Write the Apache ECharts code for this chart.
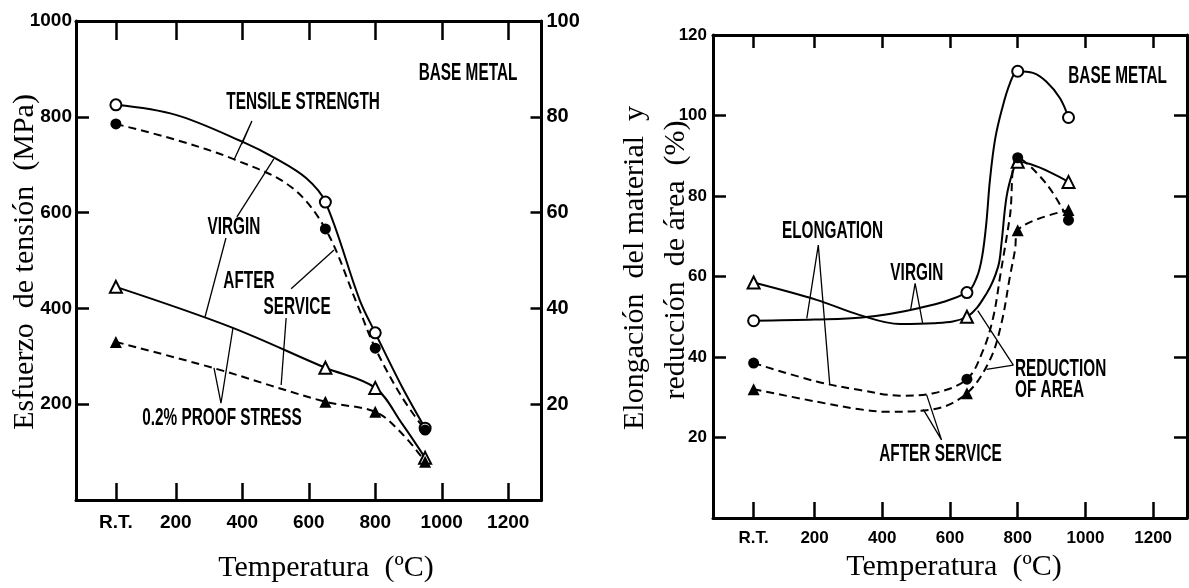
<!DOCTYPE html>
<html>
<head>
<meta charset="utf-8">
<script src="https://cdn.jsdelivr.net/npm/echarts@6/dist/echarts.min.js"></script>
<style>
  html, body { margin: 0; padding: 0; background: #fff; }
  #chart { width: 1189px; height: 588px; }
</style>
</head>
<body>
<div id="chart"></div>
<script>
// Test temperatures (°C); room temperature (R.T.) is plotted at 20 °C
const testTemps = [20, 650, 800, 950];
const tempTicks = [20, 200, 400, 600, 800, 1000, 1200];
const tempTickLabels = ['R.T.', '200', '400', '600', '800', '1000', '1200'];

// Left panel: strength (MPa), base metal
const tensileVirgin = [825, 622, 349, 150];
const tensileAfter  = [785, 566, 317, 146];
const proofVirgin   = [445, 276, 234, 88];
const proofAfter    = [330, 205, 184, 80];

// Extra points [°C, MPa]
const tensileVirginPath = [[200, 804], [400, 748], [500, 713], [592, 672], [753, 418], [880, 237]];
const tensileAfterPath  = [[200, 752], [376, 711], [546, 654], [745, 410], [880, 215]];
const proofVirginPath   = [[362, 362], [880, 160]];
const proofAfterPath    = [[316, 275], [880, 139]];

// Right panel: elongation and reduction of area (%), base metal
const areaVirgin  = [49, 56, 111, 99.5];
const elongVirgin = [58.5, 50, 88.5, 83.5];
const areaAfter   = [38.5, 34.5, 89.5, 74];
const elongAfter  = [32, 31, 71.5, 76.5];

// Extra points [°C, %]
const areaVirginPath  = [[200, 49.3], [340, 49.8], [500, 52], [680, 60], [695, 65], [707, 73], [718, 84],
                         [733, 94], [753, 101.4], [777, 108], [845, 110.6], [885, 108.4], [925, 104.3]];
const elongVirginPath = [[206, 54.2], [334, 50.4], [452, 48.2], [551, 48.4], [708, 55.8], [742, 62.4],
                         [752, 68.2], [767, 79.8], [787, 86.5]];
const areaAfterPath   = [[206, 33.9], [334, 31.8], [452, 30.4], [551, 31], [698, 41.7], [728, 50],
                         [748, 60], [777, 75], [885, 83]];
const elongAfterPath  = [[206, 28.9], [334, 27], [413, 26.4], [551, 27], [718, 39.3], [752, 48.4],
                         [777, 60], [792, 66.6]];

// Leader lines [°C, value] and callout texts
const leftLeaders = [
  [[399, 743], [429, 791], [375, 710]],
  [[384, 591], [495, 712]],
  [[351, 547], [288, 382]],
  [[547, 441], [676, 522]],
  [[532, 380], [517, 240]],
  [[315, 276], [336, 202], [372, 359]]
];
const rightLeaders = [
  [[177, 49.6], [211, 67.8], [245, 33.0]],
  [[484, 51.9], [497, 58.3], [519, 48.5]],
  [[682, 51.5], [787, 38.0], [708, 36.9]],
  [[531, 30.6], [575, 19.4], [521, 27]]
];
const leftNotes = [
  { text: 'BASE METAL', at: [1079, 890] },
  { text: 'TENSILE STRENGTH', at: [583, 831] },
  { text: 'VIRGIN', at: [375, 570] },
  { text: 'AFTER', at: [420, 457] },
  { text: 'SERVICE', at: [565, 403] },
  { text: '0.2% PROOF STRESS', at: [339, 171] }
];
const rightNotes = [
  { text: 'BASE METAL', at: [1095, 109.7] },
  { text: 'ELONGATION', at: [253, 71.2] },
  { text: 'VIRGIN', at: [502, 60.7] },
  { text: 'REDUCTION', at: [792, 37.0], left: true },
  { text: 'OF AREA', at: [792, 31.8], left: true },
  { text: 'AFTER SERVICE', at: [572, 15.9] }
];

const SANS = "'Liberation Sans', Arial, sans-serif";
const SERIF = "'Liberation Serif', 'DejaVu Serif', serif";

const zip = (xs, ys) => xs.map((x, i) => [x, ys[i]]);
const mergePath = (pts, extra) => pts.concat(extra).sort((a, b) => a[0] - b[0]);

function curve(points, panel, dashed) {
  return {
    type: 'line', xAxisIndex: panel * 2, yAxisIndex: panel * 2,
    data: points, smooth: 0.35, symbol: 'none', silent: true, z: 2,
    lineStyle: { color: '#000', width: 2, type: dashed ? [8, 5] : 'solid' }
  };
}
function markers(points, panel, shape, filled) {
  return {
    type: 'scatter', xAxisIndex: panel * 2, yAxisIndex: panel * 2,
    data: points, symbol: shape, symbolSize: shape === 'triangle' ? 12 : 11, silent: true, z: 4,
    itemStyle: { color: filled ? '#000' : '#fff', borderColor: '#000', borderWidth: filled ? 0 : 2, opacity: 1 }
  };
}
function leader(path, panel) {
  return {
    type: 'line', xAxisIndex: panel * 2, yAxisIndex: panel * 2, data: path,
    symbol: 'none', silent: true, z: 3, lineStyle: { color: '#000', width: 1.3 }
  };
}

function xAxis(grid, pos, tickLen, labelSize, margin) {
  return {
    type: 'value', gridIndex: grid, position: pos, min: -100, max: 1300,
    axisLine: { show: true, onZero: false, lineStyle: { color: '#000', width: 3 } },
    axisTick: { show: true, inside: true, length: tickLen, customValues: tempTicks,
                lineStyle: { color: '#000', width: 2.5 } },
    axisLabel: labelSize ? {
      show: true, customValues: tempTicks, color: '#000', fontFamily: SANS, fontWeight: 'bold',
      fontSize: labelSize, margin: margin,
      formatter: v => tempTickLabels[tempTicks.indexOf(v)] ?? ''
    } : { show: false },
    splitLine: { show: false }
  };
}
function yAxis(grid, pos, max, step, tickLen, labelSize, margin) {
  return {
    type: 'value', gridIndex: grid, position: pos, min: 0, max: max, interval: step,
    axisLine: { show: true, onZero: false, lineStyle: { color: '#000', width: 3 } },
    axisTick: { show: true, inside: true, length: tickLen, lineStyle: { color: '#000', width: 2.5 } },
    axisLabel: labelSize ? {
      show: true, color: '#000', fontFamily: SANS, fontWeight: 'bold', fontSize: labelSize, margin: margin,
      formatter: v => (v === 0 ? '' : String(v))
    } : { show: false },
    splitLine: { show: false }
  };
}

const series = [
  curve(mergePath(zip(testTemps, tensileVirgin), tensileVirginPath), 0, false),
  curve(mergePath(zip(testTemps, tensileAfter), tensileAfterPath), 0, true),
  curve(mergePath(zip(testTemps, proofVirgin), proofVirginPath), 0, false),
  curve(mergePath(zip(testTemps, proofAfter), proofAfterPath), 0, true),
  markers(zip(testTemps, tensileVirgin), 0, 'circle', false),
  markers(zip(testTemps, tensileAfter), 0, 'circle', true),
  markers(zip(testTemps, proofVirgin), 0, 'triangle', false),
  markers(zip(testTemps, proofAfter), 0, 'triangle', true),

  curve(mergePath(zip(testTemps, areaVirgin), areaVirginPath), 1, false),
  curve(mergePath(zip(testTemps, elongVirgin), elongVirginPath), 1, false),
  curve(mergePath(zip(testTemps, areaAfter), areaAfterPath), 1, true),
  curve(mergePath(zip(testTemps, elongAfter), elongAfterPath), 1, true),
  markers(zip(testTemps, areaVirgin), 1, 'circle', false),
  markers(zip(testTemps, elongVirgin), 1, 'triangle', false),
  markers(zip(testTemps, areaAfter), 1, 'circle', true),
  markers(zip(testTemps, elongAfter), 1, 'triangle', true)
]
  .concat(leftLeaders.map(p => leader(p, 0)))
  .concat(rightLeaders.map(p => leader(p, 1)));

const chart = echarts.init(document.getElementById('chart'), null, { renderer: 'canvas' });
chart.setOption({
  backgroundColor: '#fff',
  animation: false,
  grid: [
    { left: 76, top: 21, right: 647.5, bottom: 88 },
    { left: 713, top: 35, right: 2, bottom: 70 }
  ],
  xAxis: [
    xAxis(0, 'bottom', 17, 19, 13),
    xAxis(0, 'top', 19, 0, 0),
    xAxis(1, 'bottom', 16, 17, 12),
    xAxis(1, 'top', 13, 0, 0)
  ],
  yAxis: [
    yAxis(0, 'left', 1000, 200, 13, 19, 4),
    yAxis(0, 'right', 100, 20, 11, 20, 5),
    yAxis(1, 'left', 120, 20, 13, 17, 6),
    yAxis(1, 'right', 120, 20, 13, 0, 0)
  ],
  series: series
});

// Callout texts positioned in data space, axis titles in page space
function noteGraphic(note, panel) {
  const p = chart.convertToPixel({ xAxisIndex: panel * 2, yAxisIndex: panel * 2 }, note.at);
  return {
    type: 'text', x: p[0], y: p[1], scaleX: 0.64, z: 10, silent: true,
    style: { text: note.text, fill: '#000', font: 'bold 24px ' + SANS,
             align: note.left ? 'left' : 'center', verticalAlign: 'middle' }
  };
}
function title(text, x, y, rotated) {
  return {
    type: 'text', x: x, y: y, rotation: rotated ? Math.PI / 2 : 0, z: 10, silent: true,
    style: { text: text, fill: '#000', font: '30px ' + SERIF, align: 'center', verticalAlign: 'middle' }
  };
}
chart.setOption({
  graphic: leftNotes.map(n => noteGraphic(n, 0))
    .concat(rightNotes.map(n => noteGraphic(n, 1)))
    .concat([
      title('Esfuerzo  de tensión  (MPa)', 25, 262, true),
      title('Temperatura  (ºC)', 326, 568, false),
      title('Temperatura  (ºC)', 954, 567, false),
      title('Elongación  del material  y', 635, 268, true),
      title('reducción  de área  (%)', 676, 260, true)
    ])
});
</script>
</body>
</html>
